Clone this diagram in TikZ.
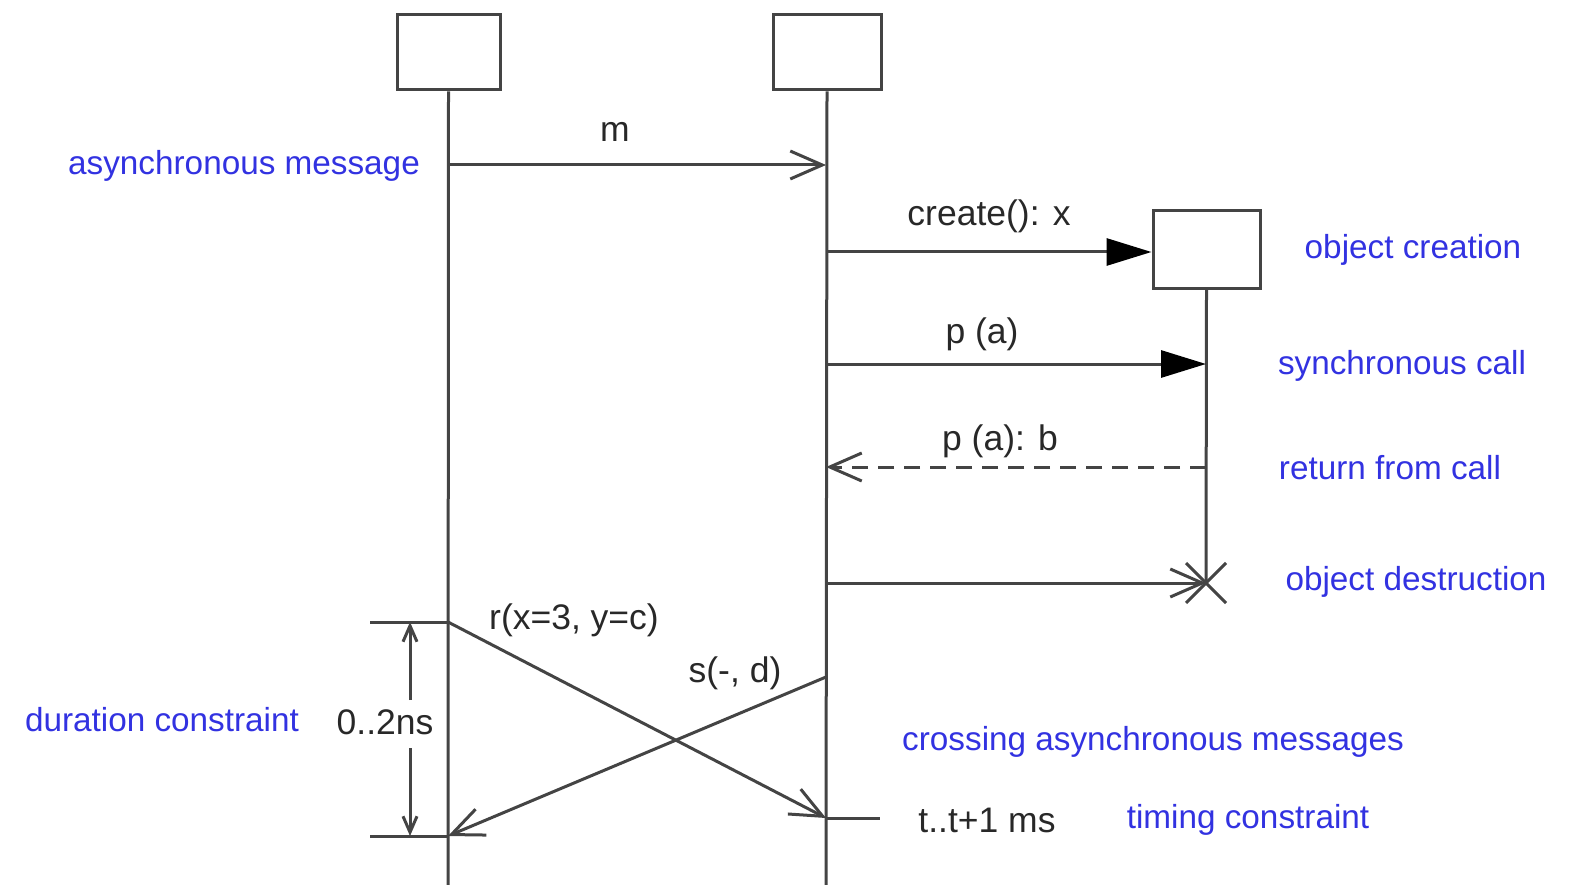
\documentclass[tikz,border=0pt]{standalone}
\usepackage{fontspec}
\setmainfont{Liberation Sans}
\usetikzlibrary{arrows.meta}
\definecolor{ln}{RGB}{68,68,68}
\definecolor{notec}{RGB}{50,50,225}
\definecolor{txt}{RGB}{40,40,40}
\begin{document}
\begin{tikzpicture}[x=1pt,y=1pt,
  obj/.style={draw=ln, line width=3pt, fill=white, inner sep=0pt},
  life/.style={draw=ln, line width=3pt},
  msg/.style={draw=ln, line width=3pt},
  asyn/.style={-{Straight Barb[length=32pt,width=28pt]}},
  syn/.style={-{Triangle[length=45pt,width=27pt,color=black,fill=black]}},
  dur/.style={-{Straight Barb[length=16pt,width=14pt]}},
  lbl/.style={font=\fontsize{35.5}{40}\selectfont, text=txt, inner sep=0pt},
  note/.style={font=\fontsize{33.3}{40}\selectfont, text=notec, inner sep=0pt}]
\useasboundingbox (0,0) rectangle (1573,-885);
% objects
\node[obj, minimum width=103pt, minimum height=75pt] (A) at (448.5,-52.5) {};
\node[obj, minimum width=108pt, minimum height=75pt] (B) at (827,-52.5) {};
\node[obj, minimum width=107pt, minimum height=77pt] (C) at (1206.5,-249.5) {};
% lifeline ends
\coordinate (Aend) at (448,-885);
\coordinate (Bend) at (826,-885);
\coordinate (Cend) at (1206,-583);
\draw[life] (A.south) -- (Aend);
\draw[life] (B.south) -- (Bend);
\draw[life] (C.south) -- (Cend);
% message points
\coordinate (m1) at (448,-165);  \coordinate (m2) at (826,-165);
\coordinate (c1) at (826,-252);
\coordinate (p1) at (826,-364);  \coordinate (p2) at (1206,-364);
\coordinate (b1) at (1206,-467); \coordinate (b2) at (826,-467);
\coordinate (d1) at (826,-583);
\coordinate (r1) at (448,-622);  \coordinate (r2) at (826,-818);
\coordinate (s1) at (826,-677);  \coordinate (s2) at (448,-836);
\coordinate (k1) at (370,-622);  \coordinate (k2) at (370,-836);
\coordinate (u1) at (410,-700);  \coordinate (u2) at (410,-622);
\coordinate (v1) at (410,-748);  \coordinate (v2) at (410,-836);
\coordinate (t2) at (880,-818);
\coordinate (x1) at (1186,-563); \coordinate (x2) at (1226,-603);
\coordinate (x3) at (1186,-603); \coordinate (x4) at (1226,-563);
% messages
\draw[msg, asyn] (m1) -- (m2);
\draw[msg, syn] (c1) -- (C.west |- c1);
\draw[msg, syn] (p1) -- (p2);
\draw[msg, asyn, dash pattern=on 16pt off 10pt] (b1) -- (b2);
\draw[msg, asyn] (d1) -- (Cend);
\draw[msg] (x1) -- (x2) (x3) -- (x4);
\draw[msg, asyn] (r1) -- (r2);
\draw[msg, asyn] (s1) -- (s2);
% constraints
\draw[msg] (k1) -- (r1);
\draw[msg] (k2) -- (s2);
\draw[msg, dur] (u1) -- (u2);
\draw[msg, dur] (v1) -- (v2);
\draw[msg] (r2) -- (t2);
% black labels
\node[lbl] (lm) at (615,-132) {m};
\node[lbl] (lc) at (989,-216) {create(): x};
\node[lbl] (lp) at (982,-334) {p (a)};
\node[lbl] (lb) at (1000,-441) {p (a): b};
\node[lbl] (lr) at (574,-620) {r(x=3, y=c)};
\node[lbl] (ls) at (735,-673) {s(-, d)};
\node[lbl] (ld) at (385,-722) {0..2ns};
\node[lbl] (lt) at (987,-820) {t..t+1 ms};
% blue notes
\node[note] (n1) at (244,-166) {asynchronous message};
\node[note] (n2) at (1413,-250) {object creation};
\node[note] (n3) at (1402,-366) {synchronous call};
\node[note] (n4) at (1390,-468) {return from call};
\node[note] (n5) at (1416,-582) {object destruction};
\node[note] (n6) at (162,-720) {duration constraint};
\node[note] (n7) at (1153,-742) {crossing asynchronous messages};
\node[note] (n8) at (1248,-820) {timing constraint};
\end{tikzpicture}
\end{document}
